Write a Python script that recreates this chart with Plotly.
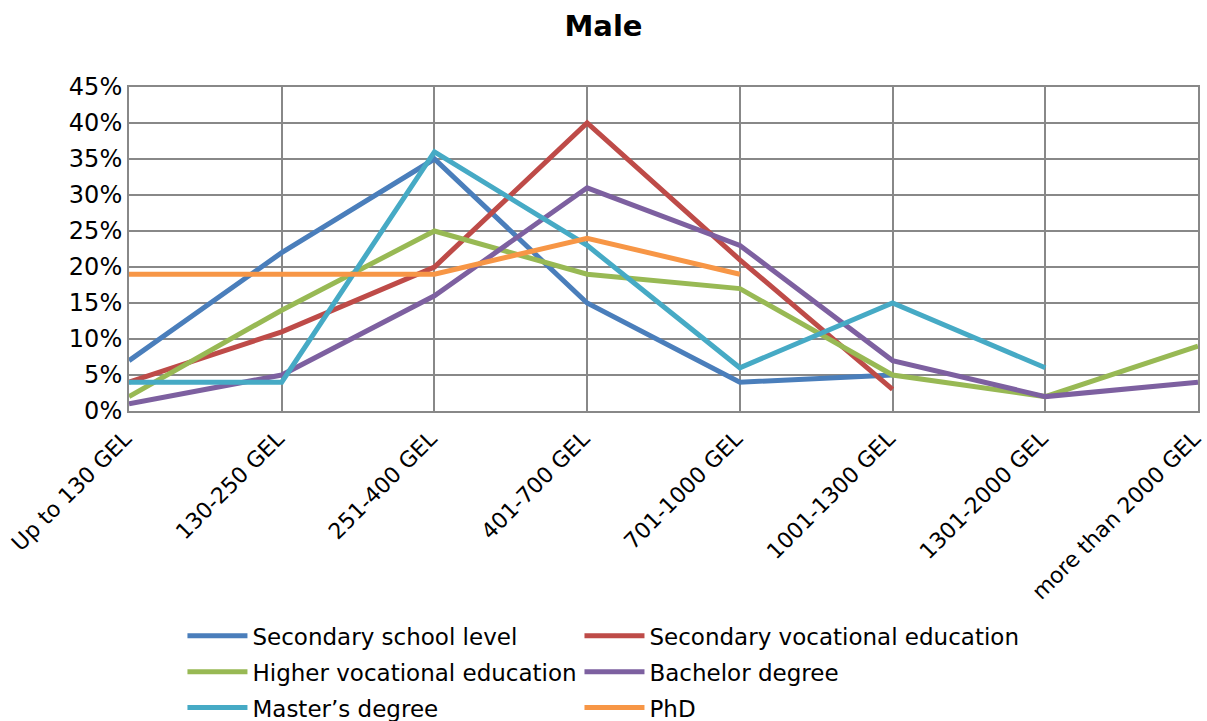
import plotly.graph_objects as go

categories = ["Up to 130 GEL", "130-250 GEL", "251-400 GEL", "401-700 GEL",
              "701-1000 GEL", "1001-1300 GEL", "1301-2000 GEL", "more than 2000 GEL"]

secondary_school = [0.07, 0.22, 0.35, 0.15, 0.04, 0.05, None, None]
secondary_vocational = [0.04, 0.11, 0.20, 0.40, 0.21, 0.03, None, None]
higher_vocational = [0.02, 0.14, 0.25, 0.19, 0.17, 0.05, 0.02, 0.09]
bachelor = [0.01, 0.05, 0.16, 0.31, 0.23, 0.07, 0.02, 0.04]
masters = [0.04, 0.04, 0.36, 0.23, 0.06, 0.15, 0.06, None]
phd = [0.19, 0.19, 0.19, 0.24, 0.19, None, None, None]

# (name, values, colour, legend column)
series = [
    ("Secondary school level", secondary_school, "#4A7EBB", "legend"),
    ("Secondary vocational education", secondary_vocational, "#BE4B48", "legend2"),
    ("Higher vocational education", higher_vocational, "#98B954", "legend"),
    ("Bachelor degree", bachelor, "#7D60A0", "legend2"),
    ("Master\u2019s degree", masters, "#46AAC5", "legend"),
    ("PhD", phd, "#F79646", "legend2"),
]

font = "DejaVu Sans"
fig = go.Figure()
for name, vals, color, leg in series:
    fig.add_trace(go.Scatter(
        x=categories, y=vals, name=name, mode="lines",
        line=dict(color=color, width=5), connectgaps=False,
        legend=leg, legendgroup=name,
    ))

grid = "#888888"
legend_common = dict(
    orientation="v", yref="container", y=0.148, yanchor="top",
    xanchor="left", itemwidth=60, tracegroupgap=3,
    font=dict(family=font, size=23), bgcolor="rgba(0,0,0,0)",
)
fig.update_layout(
    width=1207, height=721,
    paper_bgcolor="white", plot_bgcolor="white",
    margin=dict(l=129, r=9, t=87, b=310),
    font=dict(family=font, color="black"),
    title=dict(text="<b>Male</b>", x=0.5, xanchor="center", y=0.964, yanchor="middle",
               font=dict(family=font, size=29, color="black")),
    xaxis=dict(
        type="category", categoryorder="array", categoryarray=categories,
        range=[0, 7], tickangle=-45, tickfont=dict(family=font, size=22),
        ticklabeloverflow="allow", automargin=False,
        ticklabelstandoff=4, ticklabelshift=-4,
        showgrid=True, gridcolor=grid, gridwidth=2,
        showline=True, linecolor=grid, linewidth=2, mirror=True,
        ticks="", zeroline=False,
    ),
    yaxis=dict(
        range=[0, 0.45], dtick=0.05, tickformat=".0%",
        tickfont=dict(family=font, size=24), automargin=False,
        showgrid=True, gridcolor=grid, gridwidth=2,
        showline=True, linecolor=grid, linewidth=2, mirror=True,
        ticks="", zeroline=False,
    ),
    legend=dict(x=0.05, **legend_common),
    legend2=dict(x=0.4214, **legend_common),
    showlegend=True,
)

fig.write_html("out.html")
